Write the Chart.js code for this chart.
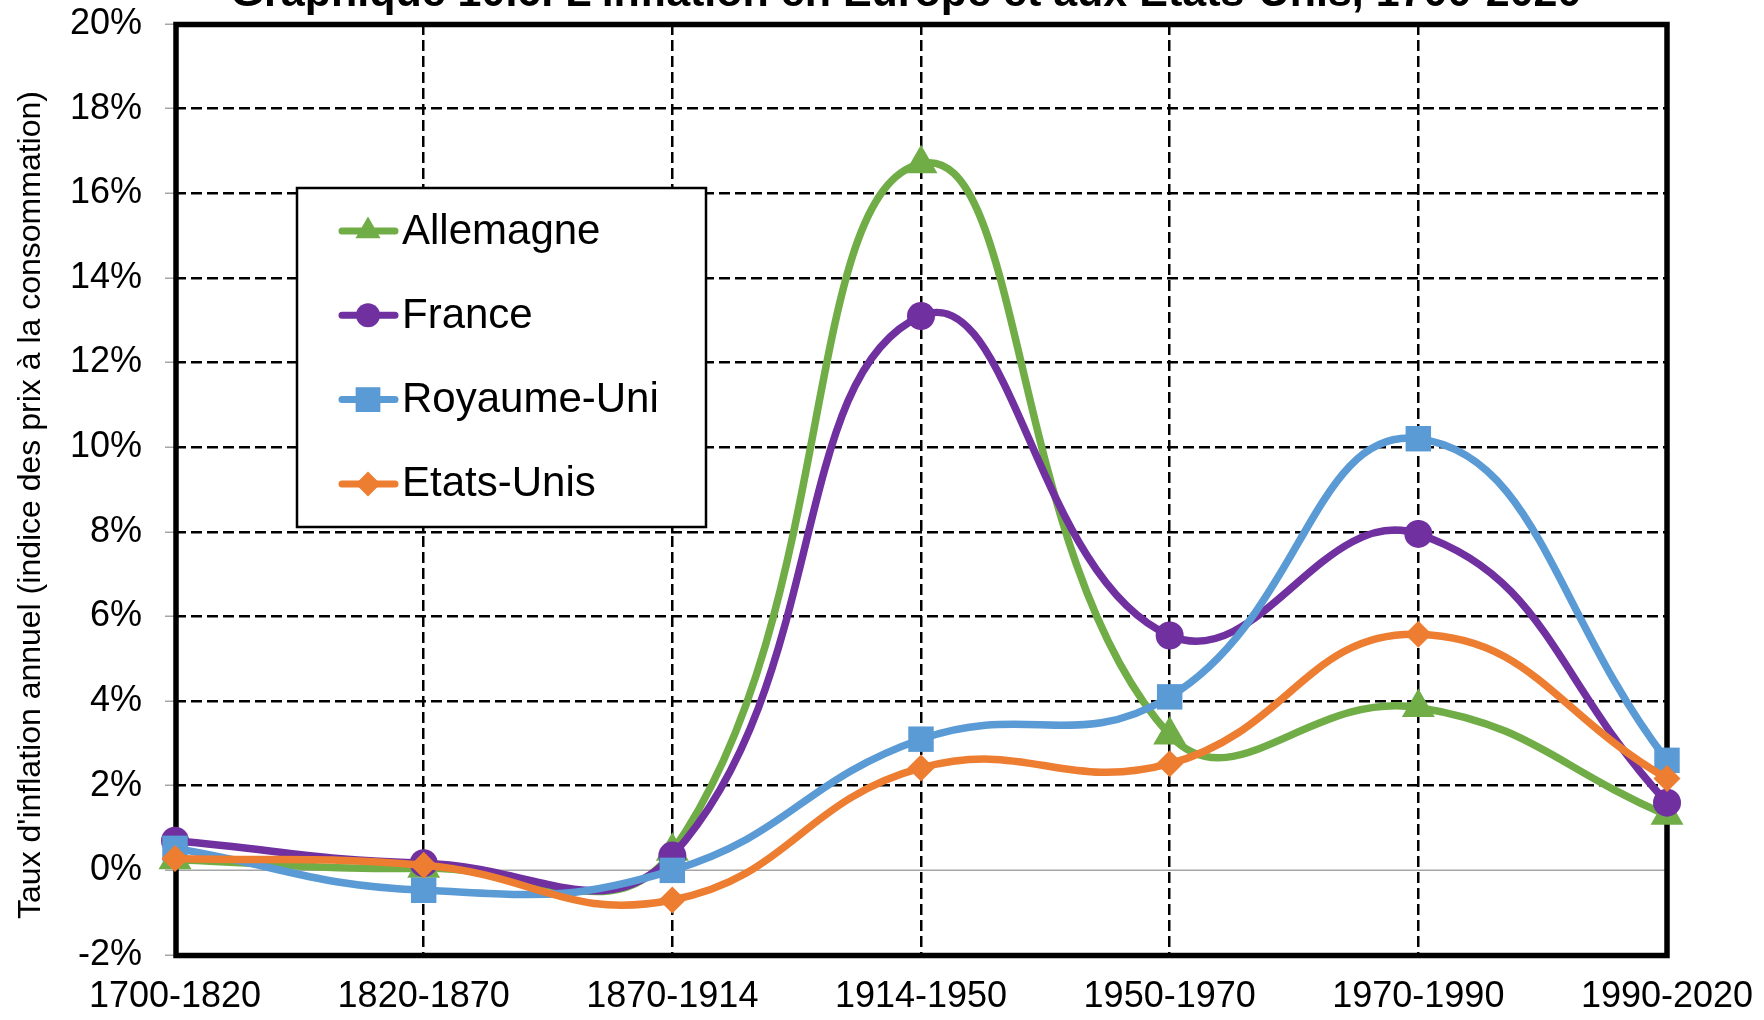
<!DOCTYPE html>
<html lang="fr">
<head>
    <meta charset="UTF-8">
    <title>L'inflation en Europe et aux Etats-Unis, 1700-2020</title>
    <script src="https://cdn.jsdelivr.net/npm/chart.js"></script>
    <style>
        html, body { margin: 0; padding: 0; background: #fff; }
        #wrap { width: 1764px; height: 1020px; }
    </style>
</head>
<body>
<div id="wrap"><canvas id="inflationChart"></canvas></div>
<script>
// periodes et taux d'inflation annuels moyens (%)
const periods = ['1700-1820', '1820-1870', '1870-1914', '1914-1950', '1950-1970', '1970-1990', '1990-2020'];
const allemagne = [0.25, 0.05, 0.45, 16.7, 3.2, 3.85, 1.3];
const france = [0.7, 0.17, 0.35, 13.1, 5.55, 7.95, 1.6];
const royaumeUni = [0.52, -0.47, 0.0, 3.1, 4.1, 10.2, 2.6];
const etatsUnis = [0.28, 0.12, -0.7, 2.42, 2.52, 5.58, 2.17];
const yMin = -2, yMax = 20, yStep = 2;

const FONT = '"Liberation Sans", Arial, sans-serif';
const Y_TITLE = "Taux d'inflation annuel (indice des prix à la consommation)";

// small marker helper for the legend
function marker(ctx, style, r, x, y, color) {
    ctx.save();
    ctx.fillStyle = color;
    ctx.beginPath();
    if (style === 'circle') {
        ctx.arc(x, y, r, 0, Math.PI * 2);
    } else if (style === 'triangle') {
        ctx.moveTo(x, y - r);
        ctx.lineTo(x + r * 0.866, y + r / 2);
        ctx.lineTo(x - r * 0.866, y + r / 2);
    } else if (style === 'rect') {
        const s = r * Math.SQRT1_2;
        ctx.rect(x - s, y - s, 2 * s, 2 * s);
    } else {
        ctx.moveTo(x, y - r);
        ctx.lineTo(x + r, y);
        ctx.lineTo(x, y + r);
        ctx.lineTo(x - r, y);
    }
    ctx.closePath();
    ctx.fill();
    ctx.restore();
}

// zero line + heavy frame around the plot
const framePlugin = {
    id: 'frame',
    beforeDatasetsDraw(chart) {
        const { ctx, chartArea: a, scales } = chart;
        const y0 = scales.y.getPixelForValue(0);
        ctx.save();
        ctx.strokeStyle = '#A6A6A6';
        ctx.lineWidth = 1.5;
        ctx.beginPath();
        ctx.moveTo(a.left, y0);
        ctx.lineTo(a.right, y0);
        ctx.stroke();
        ctx.strokeStyle = '#000';
        ctx.lineWidth = 5.5;
        ctx.strokeRect(a.left + 1, a.top + 0.5, a.right - a.left - 1, a.bottom - a.top);
        ctx.restore();
    }
};

// legend box inside the plot
const boxLegend = {
    id: 'boxLegend',
    afterDatasetsDraw(chart) {
        const ctx = chart.ctx;
        const legendSizes = { triangle: 14.5, circle: 12, rect: 17.5, rectRot: 12.5 };
        ctx.save();
        ctx.fillStyle = '#fff';
        ctx.fillRect(297, 188, 409, 339);
        ctx.strokeStyle = '#000';
        ctx.lineWidth = 2.5;
        ctx.strokeRect(297, 188, 409, 339);
        chart.data.datasets.forEach((ds, i) => {
            const y = 231 + i * 84.3;
            ctx.strokeStyle = ds.borderColor;
            ctx.lineWidth = 7;
            ctx.lineCap = 'round';
            ctx.beginPath();
            ctx.moveTo(342, y);
            ctx.lineTo(395, y);
            ctx.stroke();
            marker(ctx, ds.pointStyle, legendSizes[ds.pointStyle], 368, y, ds.borderColor);
            ctx.fillStyle = '#000';
            ctx.font = '42px ' + FONT;
            ctx.textBaseline = 'middle';
            ctx.textAlign = 'left';
            ctx.fillText(ds.label, 402, y + 1);
        });
        ctx.restore();
    }
};

// chart title (clipped at the top edge as in the original) and the y-axis title
const texts = {
    id: 'texts',
    afterDraw(chart) {
        const ctx = chart.ctx;
        ctx.save();
        ctx.fillStyle = '#000';
        ctx.font = 'bold 43px ' + FONT;
        ctx.textAlign = 'center';
        ctx.textBaseline = 'alphabetic';
        ctx.fillText("Graphique 10.6. L'inflation en Europe et aux Etats-Unis, 1700-2020", 906, 6);

        ctx.translate(31, 505);
        ctx.rotate(-Math.PI / 2);
        ctx.font = '32px ' + FONT;
        ctx.textBaseline = 'middle';
        ctx.fillText(Y_TITLE, 0, 0);
        ctx.restore();
    }
};

// keep the plot area where the layout padding puts it
function noScalePadding(scale) {
    scale.paddingTop = 0;
    scale.paddingBottom = 0;
    scale.paddingLeft = 0;
    scale.paddingRight = 0;
}

function series(label, data, color, style, radius, order) {
    return {
        label: label,
        data: data,
        borderColor: color,
        backgroundColor: color,
        pointBackgroundColor: color,
        pointBorderColor: color,
        pointBorderWidth: 0,
        borderWidth: 7.5,
        pointStyle: style,
        pointRadius: radius,
        pointHoverRadius: radius,
        tension: 0.45,
        borderCapStyle: 'round',
        borderJoinStyle: 'round',
        fill: false,
        clip: false,
        order: order
    };
}

new Chart(document.getElementById('inflationChart'), {
    type: 'line',
    data: {
        labels: periods,
        datasets: [
            series('Allemagne', allemagne, '#70AD47', 'triangle', 19, 4),
            series('France', france, '#7030A0', 'circle', 14, 3),
            series('Royaume-Uni', royaumeUni, '#5B9BD5', 'rect', 18, 2),
            series('Etats-Unis', etatsUnis, '#ED7D31', 'rectRot', 13.5, 1)
        ]
    },
    options: {
        responsive: true,
        maintainAspectRatio: false,
        animation: false,
        layout: { padding: { left: 0, right: 97, top: 24, bottom: 0 } },
        plugins: {
            legend: { display: false },
            tooltip: { enabled: false },
            title: { display: false }
        },
        scales: {
            x: {
                offset: false,
                grid: { color: '#000', lineWidth: 2.5, drawTicks: false },
                border: { display: false, dash: [11, 5] },
                ticks: { color: '#000', font: { family: FONT, size: 36 }, padding: 20, maxRotation: 0, autoSkip: false },
                afterFit(scale) { scale.height = 65; noScalePadding(scale); }
            },
            y: {
                min: yMin,
                max: yMax,
                grid: {
                    color: ctx => (ctx.tick && ctx.tick.value === 0) ? 'rgba(0,0,0,0)' : '#000',
                    lineWidth: 2.5,
                    tickLength: 10,
                    tickColor: '#A6A6A6',
                    tickWidth: 1.5
                },
                border: { display: false, dash: [11, 5] },
                ticks: {
                    stepSize: yStep,
                    color: '#000',
                    font: { family: FONT, size: 36 },
                    padding: 23,
                    callback: v => v + '%'
                },
                afterFit(scale) { scale.width = 175; noScalePadding(scale); }
            }
        }
    },
    plugins: [framePlugin, boxLegend, texts]
});
</script>
</body>
</html>
